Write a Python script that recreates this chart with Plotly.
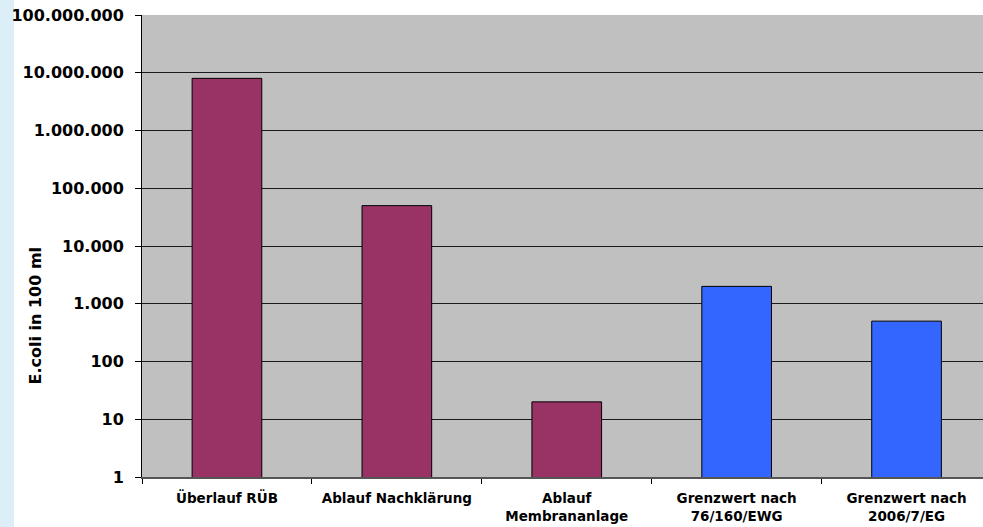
import plotly.graph_objects as go

categories = ["Überlauf RÜB", "Ablauf Nachklärung", "Ablauf<br>Membrananlage",
              "Grenzwert nach<br>76/160/EWG", "Grenzwert nach<br>2006/7/EG"]
values = [8000000, 50000, 20, 2000, 500]
bar_colors = ["#993366", "#993366", "#993366", "#3366FF", "#3366FF"]
tick_vals = [1, 10, 100, 1000, 10000, 100000, 1000000, 10000000, 100000000]
tick_text = ["1", "10", "100", "1.000", "10.000", "100.000", "1.000.000",
             "10.000.000", "100.000.000"]
y_title = "E.coli in 100 ml"

W, H = 983, 527
ML, MR, MT, MB = 142, 0, 15, 50
FONT = "DejaVu Sans"

fig = go.Figure()
fig.add_trace(go.Bar(
    x=categories, y=values,
    marker=dict(color=bar_colors, line=dict(color="#000000", width=1)),
    width=0.41,
))

pw = W - ML - MR
ph = H - MT - MB
fig.add_shape(type="rect", xref="paper", yref="paper",
              x0=-ML / pw, x1=(14 - ML) / pw,
              y0=-MB / ph, y1=1 + MT / ph,
              fillcolor="#DCEFF9", line=dict(width=0), layer="below")

fig.add_annotation(text="<b>" + y_title + "</b>", textangle=-90,
                   xref="paper", yref="paper",
                   x=(35 - ML) / pw, y=(H - MB - 315.5) / ph,
                   showarrow=False, xanchor="center", yanchor="middle",
                   font=dict(family=FONT, size=16, color="#000000"))

fig.update_layout(
    width=W, height=H,
    margin=dict(l=ML, r=MR, t=MT, b=MB, pad=0),
    paper_bgcolor="#FFFFFF",
    plot_bgcolor="#C0C0C0",
    showlegend=False,
    bargap=0.59,
    font=dict(family=FONT, color="#000000"),
)
fig.update_xaxes(
    type="category",
    range=[-0.5, 4.45],
    tickson="boundaries",
    ticks="outside", ticklen=5, tickcolor="#000000",
    showline=True, linecolor="#555555", linewidth=2,
    showgrid=False,
    tickfont=dict(family=FONT, size=13.5, color="#000000", weight="bold"),
    ticklabelstandoff=8,
)
fig.update_yaxes(
    type="log", range=[0, 8],
    tickvals=tick_vals, ticktext=tick_text,
    ticks="outside", ticklen=6, tickcolor="#000000",
    showline=True, linecolor="#000000", linewidth=1,
    showgrid=True, gridcolor="#1A1A1A", gridwidth=1,
    tickfont=dict(family=FONT, size=16, color="#000000", weight="bold"),
    ticklabelstandoff=8,
    zeroline=False,
)

fig.write_html("out.html")
